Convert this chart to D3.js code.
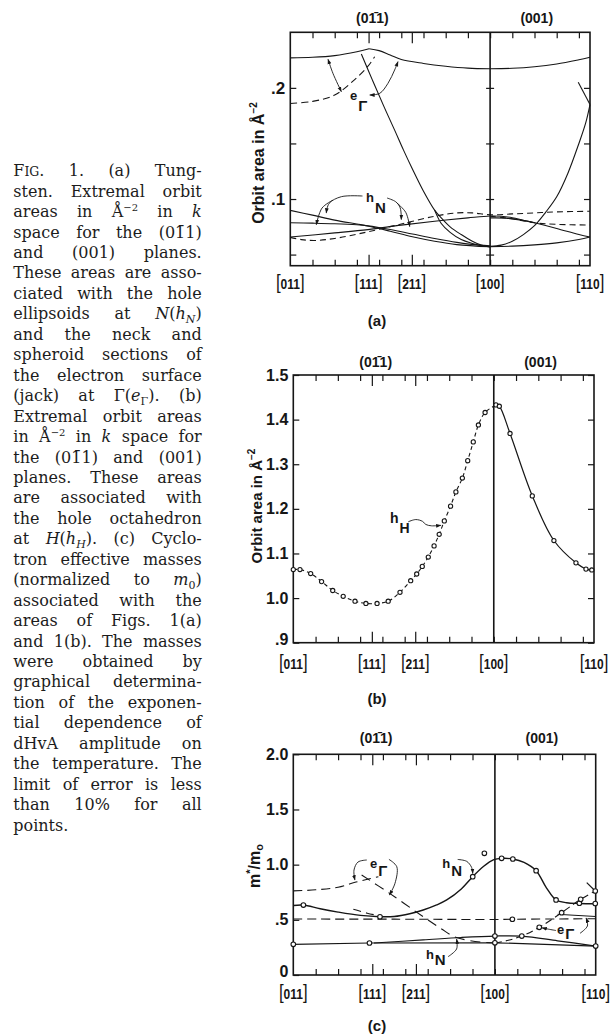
<!DOCTYPE html>
<html>
<head>
<meta charset="utf-8">
<script src="https://d3js.org/d3.v7.min.js"></script>
<style>
  html, body { margin: 0; padding: 0; background: #fff; }
  svg { display: block; }
  .lab { font-family: "Liberation Sans", Arial, sans-serif; font-weight: bold; fill: #161616; }
  .cap { font-family: "DejaVu Serif", serif; font-size: 16px; fill: #1c1c1c; }
</style>
</head>
<body>
<svg id="svg" width="611" height="1036"></svg>
<script>
// ---------- data: angle in degrees from [011] (0..90 in (0-11), 90..135 in (001)) ----------
const directions = ["011", "111", "211", "100", "110"];
const directionDeg = [0, 35.26, 54.74, 90, 135];
const planeLabels = ["(01\u03041)", "(001)"];
const panelLabels = ["(a)", "(b)", "(c)"];

const aTickVals = [0.05, 0.1, 0.15, 0.2];
const aTickText = ["", ".1", "", ".2"];
const bTickVals = [0.9, 1.0, 1.1, 1.2, 1.3, 1.4, 1.5];
const bTickText = [".9", "1.0", "1.1", "1.2", "1.3", "1.4", "1.5"];
const cTickVals = [0, 0.5, 1.0, 1.5, 2.0];
const cTickText = ["0", ".5", "1.0", "1.5", "2.0"];

// (a) extremal areas, e_Gamma (jack)
const aTopLeft = [[0, 0.227], [10, 0.2275], [20, 0.229], [30, 0.2325], [35.5, 0.2352]];
const aTopMid = [[35.5, 0.2352], [40, 0.2335], [45, 0.2295], [50, 0.2255], [60, 0.222], [70, 0.2195], [80, 0.2178], [90, 0.2172]];
const aTopRight = [[90, 0.2172], [100, 0.2176], [110, 0.219], [120, 0.2215], [130, 0.2253], [135, 0.2275]];
const aDashE = [[0, 0.186], [10, 0.1878], [20, 0.1935], [29, 0.2075], [35, 0.2195], [38, 0.228]];
const aNeck = [[32, 0.2305], [37, 0.207], [42, 0.184], [47, 0.162], [51, 0.144], [55, 0.127], [60, 0.107], [65, 0.09], [68, 0.083], [72, 0.075], [77, 0.068], [82, 0.062], [86, 0.0585], [90, 0.0568]];
const aNeck2 = [[65, 0.09], [68, 0.078], [72, 0.07], [77, 0.0635], [82, 0.06], [86, 0.058], [90, 0.0572]];
const aSpheroid = [[90, 0.0575], [95, 0.0585], [100, 0.062], [105, 0.068], [110, 0.076], [115, 0.088], [120, 0.102], [125, 0.123], [130, 0.15], [133, 0.168], [135, 0.185]];
const aCusp = [[129.7, 0.205], [135, 0.185]];
// (a) h_N ellipsoids
const aN1 = [[0, 0.0898], [10, 0.0855], [20, 0.081], [30, 0.0775], [35, 0.0757], [45, 0.071], [55, 0.066], [65, 0.062], [75, 0.059], [90, 0.057]];
const aN2 = [[0, 0.0786], [10, 0.0783], [20, 0.0778], [30, 0.0768], [35, 0.0758], [45, 0.0725], [55, 0.0685], [65, 0.0645], [75, 0.061], [85, 0.0585], [90, 0.058]];
const aN3 = [[0, 0.0658], [20, 0.0695], [35, 0.0725], [50, 0.0765], [65, 0.08], [80, 0.083], [90, 0.0847], [95, 0.0845], [100, 0.0832], [110, 0.0786], [120, 0.0735], [130, 0.068], [135, 0.0658]];
const aN3b = [[90, 0.083], [97, 0.0828], [104, 0.081], [110, 0.0786]];
const aNdash = [[0, 0.0655], [5, 0.0635], [11, 0.0627], [20, 0.0645], [35, 0.0705], [50, 0.0775], [65, 0.0845], [75, 0.0875], [82, 0.0875], [90, 0.0858], [100, 0.0866], [110, 0.0875], [120, 0.0884], [135, 0.089]];
const aNdash2 = [[90, 0.0845], [100, 0.0822], [110, 0.0786], [120, 0.0772], [135, 0.0766]];
const aNbottom = [[90, 0.0572], [100, 0.0576], [110, 0.0587], [120, 0.0605], [130, 0.0635], [135, 0.0658]];

// (b) hole octahedron h_H
const bDegL = [0, 3, 7.8, 12.7, 17.7, 22.4, 27.7, 32.6, 37.6, 42.6, 47.9, 52.7, 55.4, 57.9, 60.6, 63.2, 65.5, 67.8, 70.6, 73.0, 75.9, 78.3, 80.8, 83.1, 86.1, 91.0];
const bValL = [1.064, 1.064, 1.055, 1.037, 1.017, 1.004, 0.993, 0.988, 0.988, 0.993, 1.013, 1.039, 1.054, 1.071, 1.092, 1.117, 1.143, 1.173, 1.206, 1.238, 1.269, 1.308, 1.350, 1.388, 1.416, 1.433];
const bDegR = [91.0, 92.5, 97.3, 107.3, 117.0, 126.9, 131.4, 134.0];
const bValR = [1.433, 1.430, 1.369, 1.229, 1.129, 1.079, 1.065, 1.063];

// (c) cyclotron masses
const cNupper = [[0, 0.63], [4.5, 0.634], [12, 0.6], [20, 0.57], [30, 0.54], [38.7, 0.528], [45, 0.53], [52, 0.555], [58, 0.589], [64, 0.635], [68.5, 0.68], [75, 0.78], [80.1, 0.891], [85, 0.985], [89.5, 1.045], [93, 1.057], [98, 1.051], [103, 1.02], [108.4, 0.945], [113, 0.79], [117.3, 0.68], [122, 0.655], [127.7, 0.648], [135, 0.645]];
const cNupperPts = [[4.5, 0.634], [38.7, 0.528], [80.1, 0.891], [85.3, 1.103], [93, 1.057], [98, 1.051], [108.4, 0.945], [117.3, 0.68], [127.7, 0.65], [134.8, 0.648]];
const cEtop = [[0, 0.762], [10, 0.772], [20, 0.795], [28, 0.842], [34, 0.872], [38, 0.89]];
const cEdesc = [[30.5, 0.906], [43, 0.74], [58, 0.528], [66, 0.42], [72, 0.345], [78, 0.315], [84, 0.298], [90, 0.29]];
const cErise = [[90, 0.29], [96, 0.315], [102, 0.353], [109.8, 0.432], [119.8, 0.565], [128.3, 0.686], [134.8, 0.761]];
const cErisePts = [[102, 0.353], [109.8, 0.432], [119.8, 0.565], [128.3, 0.686], [134.8, 0.761]];
const cEriseEnd = [[131, 0.837], [134.8, 0.761]];
const cEshort = [[26.8, 0.595], [33, 0.56], [38.7, 0.535]];
const cEflat = [[0, 0.507], [45, 0.506], [90, 0.503], [97.8, 0.505], [135, 0.51]];
const cEflatPts = [[97.8, 0.505]];
const cEflatEnd = [[118, 0.55], [135, 0.53]];
const cNlow = [[0, 0.278], [34, 0.29], [90, 0.292], [135, 0.262]];
const cNwedge = [[36, 0.29], [58, 0.318], [75, 0.34], [90, 0.353], [102, 0.352], [118, 0.31], [135, 0.262]];
const cNlowPts = [[0, 0.278], [34, 0.29], [90, 0.292], [90, 0.353], [135, 0.262]];

// caption (mini markup: {i:} italic, {sub:} {isub:} {sup:} {sc:})
const captionLines = [
  "F{sc:IG}. 1. (a) Tung-",
  "sten. Extremal orbit",
  "areas in Å{sup:−2} in {i:k}",
  "space for the (01\u03041)",
  "and (001) planes.",
  "These areas are asso-",
  "ciated with the hole",
  "ellipsoids at {i:N}({i:h}{isub:N})",
  "and the neck and",
  "spheroid sections of",
  "the electron surface",
  "(jack) at Γ({i:e}{sub:Γ}). (b)",
  "Extremal orbit areas",
  "in Å{sup:−2} in {i:k} space for",
  "the (01\u03041) and (001)",
  "planes. These areas",
  "are associated with",
  "the hole octahedron",
  "at {i:H}({i:h}{isub:H}). (c) Cyclo-",
  "tron effective masses",
  "(normalized to {i:m}{sub:0})",
  "associated with the",
  "areas of Figs. 1(a)",
  "and 1(b). The masses",
  "were obtained by",
  "graphical determina-",
  "tion of the exponen-",
  "tial dependence of",
  "dHvA amplitude on",
  "the temperature. The",
  "limit of error is less",
  "than 10% for all",
  "points."
];

// ---------- drawing ----------
const svg = d3.select("#svg");
const ink = "#161616";
const degTicks = d3.range(10, 135, 10);
const longTicks = [directionDeg[1], directionDeg[2]];

const defs = svg.append("defs");
defs.append("marker").attr("id", "arrow").attr("viewBox", "0 0 10 10")
  .attr("refX", 9).attr("refY", 5).attr("markerWidth", 6).attr("markerHeight", 6)
  .attr("orient", "auto-start-reverse")
  .append("path").attr("d", "M0,1.5 L10,5 L0,8.5 z").attr("fill", ink);

function tickStyle(sel) {
  sel.select(".domain").remove();
  sel.selectAll("line").attr("stroke-width", 1.2);
}

function makePanel(f) {
  const x = d3.scaleLinear().domain([0, 135]).range([f.left, f.right]);
  const y = d3.scaleLinear().domain(f.dom).range([f.bottom, f.top]);
  const g = svg.append("g").attr("color", ink);

  const bot = g.append("g").attr("transform", `translate(0,${f.bottom})`);
  bot.append("g").call(d3.axisBottom(x).tickValues(degTicks).tickSize(-6).tickFormat("")).call(tickStyle);
  bot.append("g").call(d3.axisBottom(x).tickValues(longTicks).tickSize(-11).tickFormat("")).call(tickStyle);
  const top = g.append("g").attr("transform", `translate(0,${f.top})`);
  top.append("g").call(d3.axisTop(x).tickValues(degTicks).tickSize(-6).tickFormat("")).call(tickStyle);
  top.append("g").call(d3.axisTop(x).tickValues(longTicks).tickSize(-11).tickFormat("")).call(tickStyle);

  const left = g.append("g").attr("transform", `translate(${f.left},0)`)
    .call(d3.axisLeft(y).tickValues(f.tickVals).tickSize(-6).tickPadding(5).tickFormat((d, i) => f.tickText[i]))
    .call(tickStyle);
  left.selectAll("text").attr("class", "lab").style("font-size", f.tickFont + "px")
    .filter(d => d === f.dom[0]).attr("dy", "0.1em");

  if (f.rightTicks) {
    g.append("g").attr("transform", `translate(${f.right},0)`)
      .call(d3.axisRight(y).tickValues(f.tickVals).tickSize(-6).tickFormat("")).call(tickStyle);
  }
  if (f.midTicks) {
    g.append("g").attr("transform", `translate(${x(90)},0)`)
      .call(d3.axisLeft(y).tickValues(f.tickVals).tickSize(4).tickFormat("")).call(tickStyle);
    g.append("g").attr("transform", `translate(${x(90)},0)`)
      .call(d3.axisRight(y).tickValues(f.tickVals).tickSize(4).tickFormat("")).call(tickStyle);
  }

  g.append("rect").attr("x", f.left).attr("y", f.top)
    .attr("width", f.right - f.left).attr("height", f.bottom - f.top)
    .attr("fill", "none").attr("stroke", ink).attr("stroke-width", 1.6);
  g.append("line").attr("x1", x(90)).attr("x2", x(90)).attr("y1", f.top).attr("y2", f.bottom)
    .attr("stroke", ink).attr("stroke-width", 1.6);

  // direction labels under the axis
  directions.forEach((lab, i) => {
    const t = g.append("text").attr("class", "lab").attr("text-anchor", "middle")
      .attr("transform", `translate(${x(directionDeg[i])},${f.bottom + f.dirDy}) scale(0.8,1)`);
    t.append("tspan").style("font-size", "21px").style("font-weight", "normal").text("[");
    t.append("tspan").style("font-size", "15px").text(lab);
    t.append("tspan").style("font-size", "21px").style("font-weight", "normal").text("]");
  });

  // plane headers
  g.append("text").attr("class", "lab").attr("text-anchor", "middle").style("font-size", "14px")
    .attr("x", x(37)).attr("y", f.top - f.headDy).text(planeLabels[0]);
  g.append("text").attr("class", "lab").attr("text-anchor", "middle").style("font-size", "14px")
    .attr("x", x(111)).attr("y", f.top - f.headDy).text(planeLabels[1]);

  // panel letter
  g.append("text").attr("class", "lab").attr("text-anchor", "middle").style("font-size", "15px")
    .attr("x", 377).attr("y", f.letterY).text(panelLabels[f.idx]);

  return { g, x, y };
}

function curve(p, data, o = {}) {
  const line = d3.line().x(d => p.x(d[0])).y(d => p.y(d[1]))
    .curve(o.curve || d3.curveCatmullRom.alpha(0.5));
  const path = p.g.append("path").attr("d", line(data)).attr("fill", "none")
    .attr("stroke", ink).attr("stroke-width", o.w || 1.1);
  if (o.dash) path.attr("stroke-dasharray", o.dash);
  if (o.end) path.attr("marker-end", "url(#arrow)");
  if (o.start) path.attr("marker-start", "url(#arrow)");
  return path;
}

function dots(p, data, r = 2.1) {
  p.g.append("g").selectAll("circle").data(data).join("circle")
    .attr("cx", d => p.x(d[0])).attr("cy", d => p.y(d[1])).attr("r", r)
    .attr("fill", "#fff").attr("stroke", ink).attr("stroke-width", 1.1);
}

function note(p, deg, val, main, sub, mainSize, subSize, subDy) {
  const t = p.g.append("text").attr("class", "lab").attr("x", p.x(deg)).attr("y", p.y(val));
  t.append("tspan").style("font-size", mainSize + "px").text(main);
  t.append("tspan").style("font-size", subSize + "px").attr("dx", 1).attr("dy", subDy).text(sub);
}

function yTitle(x, y, size, parts) {
  const t = svg.append("text").attr("class", "lab").attr("text-anchor", "middle")
    .style("font-size", size + "px").attr("transform", `translate(${x},${y}) rotate(-90)`);
  parts.forEach(pt => {
    const s = t.append("tspan").text(pt.t);
    if (pt.size) s.style("font-size", pt.size + "px");
    if (pt.dy) s.attr("dy", pt.dy);
  });
}

// ---------- panel (a) ----------
const A = makePanel({ idx: 0, left: 290.3, right: 590, top: 32.3, bottom: 265.7, dom: [0.04, 0.25],
  tickVals: aTickVals, tickText: aTickText, tickFont: 17, rightTicks: true, midTicks: true,
  dirDy: 23, headDy: 9, letterY: 326 });
[aTopLeft, aTopMid, aTopRight, aNeck, aNeck2, aSpheroid, aCusp, aN1, aN2, aN3, aN3b, aNbottom]
  .forEach(d => curve(A, d));
curve(A, aDashE, { dash: "7,4" });
curve(A, aNdash, { dash: "6,4" });
curve(A, aNdash2, { dash: "6,4" });
note(A, 26.9, 0.189, "e", "Γ", 13, 15, 11);
curve(A, [[17, 0.2257], [19.2, 0.2131], [23, 0.1966]], { w: 0.9, start: true, end: true });
curve(A, [[35.8, 0.1936], [40.3, 0.1951], [44, 0.2041], [47, 0.2161], [48.5, 0.2236]], { w: 0.9, start: true, end: true });
note(A, 34.1, 0.0973, "h", "N", 13, 15, 11);
curve(A, [[32.5, 0.1027], [23, 0.1021], [17.5, 0.0961], [16.2, 0.0874]], { w: 0.9, end: true });
curve(A, [[19.2, 0.099], [14.3, 0.0919], [11.7, 0.0769]], { w: 0.9, end: true });
curve(A, [[43.6, 0.1009], [47.5, 0.0975], [49.5, 0.092], [50, 0.0815]], { w: 0.9, end: true });
curve(A, [[48, 0.0965], [52, 0.088], [53.8, 0.0752]], { w: 0.9, end: true });
yTitle(264, 163, 16, [{ t: "Orbit area in Å" }, { t: "−2", size: 10, dy: -7 }]);

// ---------- panel (b) ----------
const B = makePanel({ idx: 1, left: 293.3, right: 594, top: 375, bottom: 642.7, dom: [0.9, 1.5],
  tickVals: bTickVals, tickText: bTickText, tickFont: 16, rightTicks: true, midTicks: false,
  dirDy: 26, headDy: 8, letterY: 704 });
const bLeft = bDegL.map((d, i) => [d, bValL[i]]);
const bRight = bDegR.map((d, i) => [d, bValR[i]]);
curve(B, bLeft, { dash: "4,3" });
curve(B, bRight, { w: 1.2 });
dots(B, bLeft);
dots(B, bRight.slice(1));
note(B, 43.4, 1.168, "h", "H", 14, 14, 10);
curve(B, [[51.6, 1.171], [55, 1.176], [58, 1.172], [59.5, 1.165], [62, 1.162], [66.3, 1.163]], { w: 0.9, end: true });
yTitle(262, 506, 15, [{ t: "Orbit area in Å" }, { t: "−2", size: 10, dy: -7 }]);

// ---------- panel (c) ----------
const C = makePanel({ idx: 2, left: 293.3, right: 595.7, top: 754.3, bottom: 975, dom: [0, 2],
  tickVals: cTickVals, tickText: cTickText, tickFont: 16, rightTicks: false, midTicks: false,
  dirDy: 24, headDy: 11, letterY: 1031 });
curve(C, cNupper, { w: 1.4 });
curve(C, cEtop, { dash: "9,5" });
curve(C, cEdesc, { dash: "10,6" });
curve(C, cErise, { dash: "7,4" });
curve(C, cEriseEnd, { w: 1.2 });
curve(C, cEshort, { dash: "8,5" });
curve(C, cEflat, { dash: "9,5" });
curve(C, cEflatEnd, { w: 1 });
curve(C, cNlow, { w: 1.2, curve: d3.curveLinear });
curve(C, cNwedge, { w: 1.2 });
dots(C, cNupperPts, 2.3);
dots(C, cErisePts, 2.3);
dots(C, cEflatPts, 2.3);
dots(C, cNlowPts, 2.3);
note(C, 34.2, 0.97, "e", "Γ", 13, 15, 8);
curve(C, [[32.8, 1.042], [28.9, 1.024], [27.1, 0.951], [27.5, 0.861]], { w: 0.9, end: true });
curve(C, [[42.7, 1.048], [46.2, 0.981], [45.4, 0.831], [42.9, 0.725]], { w: 0.9, end: true });
note(C, 66.5, 0.968, "h", "N", 13, 15, 8);
curve(C, [[73.4, 1.047], [77.4, 1.03], [79.6, 0.975], [80.1, 0.92]], { w: 0.9, end: true });
note(C, 59.2, 0.145, "h", "N", 13, 15, 6);
curve(C, [[69.1, 0.166], [72.9, 0.236], [72.9, 0.326]], { w: 0.9, end: true });
note(C, 117.7, 0.372, "e", "Γ", 13, 15, 5);
curve(C, [[117.3, 0.403], [114, 0.415], [111, 0.428]], { w: 0.9, end: true });
curve(C, [[128, 0.378], [131.3, 0.444], [130.7, 0.517]], { w: 0.9, end: true });
yTitle(260, 866, 16, [{ t: "m" }, { t: "*", size: 11, dy: -6 }, { t: "/m", dy: 6 }, { t: "o", size: 11, dy: 3 }]);

// ---------- caption, justified line by line ----------
const capLeft = 13.3, capRight = 201.7, capTop = 176.2, capStep = 20.45;
const cap = svg.append("g").attr("class", "cap");

function addRuns(text, word) {
  const re = /\{(\w+):([^}]*)\}/g;
  let last = 0, shift = 0, m;
  const push = (s, kind) => {
    if (!s) return;
    const ts = text.append("tspan").text(s);
    let want = 0;
    if (kind === "i") ts.style("font-style", "italic");
    if (kind === "sub" || kind === "isub") { want = 4; ts.style("font-size", "11px"); }
    if (kind === "isub") ts.style("font-style", "italic");
    if (kind === "sup") { want = -6; ts.style("font-size", "10px"); }
    if (kind === "sc") ts.style("font-size", "12.5px");
    if (want !== shift) { ts.attr("dy", want - shift); shift = want; }
  };
  while ((m = re.exec(word)) !== null) {
    push(word.slice(last, m.index), "n");
    push(m[2], m[1]);
    last = re.lastIndex;
  }
  push(word.slice(last), "n");
}

const probe = cap.append("text").text("a a");
const probe2 = cap.append("text").text("aa");
const spaceW = probe.node().getComputedTextLength() - probe2.node().getComputedTextLength();
probe.remove(); probe2.remove();

captionLines.forEach((line, li) => {
  const yb = capTop + li * capStep;
  const words = line.split(" ");
  const gl = cap.append("g");
  const nodes = words.map(w => { const t = gl.append("text").attr("y", yb); addRuns(t, w); return t; });
  const widths = nodes.map(t => t.node().getComputedTextLength());
  const total = d3.sum(widths);
  const target = capRight - capLeft;
  const lastLine = li === captionLines.length - 1;
  let gap = spaceW;
  if (!lastLine && words.length > 1) gap = (target - total) / (words.length - 1);
  if (gap < spaceW * 0.6) {
    gap = spaceW * 0.6;
    const s = target / (total + gap * (words.length - 1));
    gl.attr("transform", `translate(${capLeft},0) scale(${s},1) translate(${-capLeft},0)`);
  }
  let cx = capLeft;
  nodes.forEach((t, i) => { t.attr("x", cx); cx += widths[i] + gap; });
});
</script>
</body>
</html>
